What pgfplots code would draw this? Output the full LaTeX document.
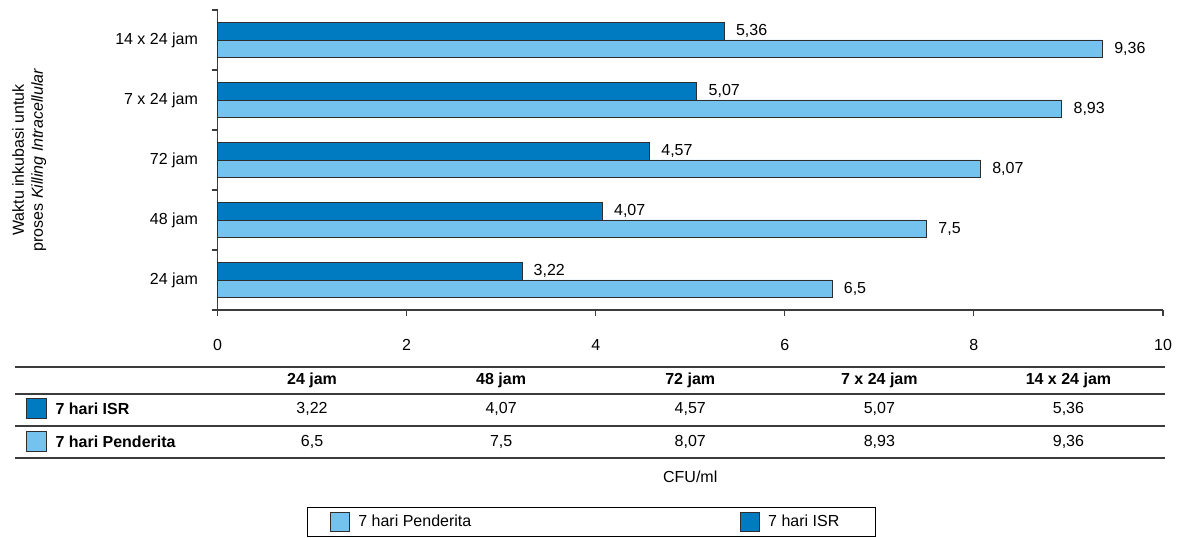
\documentclass[border=0pt]{standalone}
\usepackage{pgfplots}
\pgfplotsset{compat=1.18}
\usepackage{pgfplotstable}
\usepackage{fontspec}
\setmainfont{Liberation Sans}
\definecolor{isr}{HTML}{007BC2}
\definecolor{pen}{HTML}{73C3EE}
\definecolor{edge}{HTML}{2E2E2E}
\definecolor{axgray}{HTML}{3C3C3C}

\pgfplotstableread{
cat col isr pen
0 1 3.22 6.5
1 3 4.07 7.5
2 5 4.57 8.07
3 7 5.07 8.93
4 9 5.36 9.36
}\datatab

\begin{document}
\fontsize{16bp}{19bp}\selectfont
\begin{tikzpicture}
\path[use as bounding box] (0,0) rectangle (1178bp,538bp);
\begin{axis}[
  at={(217.5bp,228bp)}, anchor=south west,
  scale only axis, width=945.5bp, height=300bp,
  xmin=0, xmax=10, ymin=-0.5, ymax=4.5,
  clip=false,
  axis x line*=bottom, axis y line*=left,
  axis line style={-, draw=axgray, line width=1.1bp},
  xtick={0,2,...,10},
  ytick={0,...,4},
  yticklabels={24 jam, 48 jam, 72 jam, 7 x 24 jam, 14 x 24 jam},
  minor ytick={-0.5,0.5,...,4.5},
  tick align=outside,
  major tick length=6bp, minor tick length=6bp,
  tick style={draw=axgray, line width=1.1bp},
  major y tick style={draw=none},
  xticklabel style={yshift=-18bp},
  yticklabel style={xshift=-8bp},
  /pgf/number format/assume math mode=true,
  /pgf/number format/use comma,
  xlabel={CFU/ml},
  xlabel style={at={(axis description cs:0.5,-0.5567)}, anchor=center},
  ylabel={Waktu inkubasi untuk\\proses \textit{Killing Intracellular}},
  ylabel style={at={(axis description cs:-0.199,0.5)}, anchor=center, align=center},
  legend columns=2,
  legend style={at={(axis description cs:0.0947,-0.6567)}, anchor=north west,
    draw=black, line width=0.9bp, inner xsep=23bp, inner ysep=4.5bp,
    /tikz/every even column/.append style={column sep=267bp}},
]
\addplot[xbar, bar width=17.6bp, bar shift=-8.8bp, fill=pen, draw=edge, line width=0.9bp,
  point meta=x, nodes near coords,
  nodes near coords style={anchor=west, xshift=6bp, yshift=-8.8bp, text=black},
  legend image code/.code={\draw[fill=pen, draw=edge, line width=0.9bp] (0bp,-9.5bp) rectangle (19bp,9.5bp); \path (25bp,0bp);}]
  table[x=pen, y=cat] {\datatab};
\addlegendentry{7 hari Penderita}
\addplot[xbar, bar width=17.6bp, bar shift=8.8bp, fill=isr, draw=edge, line width=0.9bp,
  point meta=x, nodes near coords,
  nodes near coords style={anchor=west, xshift=6bp, yshift=8.8bp, text=black},
  legend image code/.code={\draw[fill=isr, draw=edge, line width=0.9bp] (0bp,-9.5bp) rectangle (19bp,9.5bp); \path (25bp,0bp);}]
  table[x=isr, y=cat] {\datatab};
\addlegendentry{7 hari ISR\hspace*{11bp}}
% table values
\addplot[forget plot, draw=none, mark=none, point meta=explicit, nodes near coords,
  nodes near coords align={center}, nodes near coords style={text=black}]
  table[x=col, y expr=-2.15, meta=isr] {\datatab};
\addplot[forget plot, draw=none, mark=none, point meta=explicit, nodes near coords,
  nodes near coords align={center}, nodes near coords style={text=black}]
  table[x=col, y expr=-2.7, meta=pen] {\datatab};
\node[font=\bfseries] at (axis cs:1,-1.6667) {24 jam};
\node[font=\bfseries] at (axis cs:3,-1.6667) {48 jam};
\node[font=\bfseries] at (axis cs:5,-1.6667) {72 jam};
\node[font=\bfseries] at (axis cs:7,-1.6667) {7 x 24 jam};
\node[font=\bfseries] at (axis cs:9,-1.6667) {14 x 24 jam};
\end{axis}
\draw[axgray, line width=1.4bp] (15bp,171bp) -- (1165bp,171bp);
\draw[axgray, line width=1.2bp] (15bp,144bp) -- (1165bp,144bp);
\draw[axgray, line width=1.2bp] (15bp,112bp) -- (1165bp,112bp);
\draw[axgray, line width=1.4bp] (15bp,80bp) -- (1165bp,80bp);
\draw[edge, fill=isr, line width=0.9bp] (26bp,120bp) rectangle (46bp,140bp);
\node[anchor=west, font=\bfseries] at (50bp,129bp) {7 hari ISR};
\draw[edge, fill=pen, line width=0.9bp] (26bp,87bp) rectangle (46bp,107bp);
\node[anchor=west, font=\bfseries] at (50bp,96bp) {7 hari Penderita};
\end{tikzpicture}
\end{document}
